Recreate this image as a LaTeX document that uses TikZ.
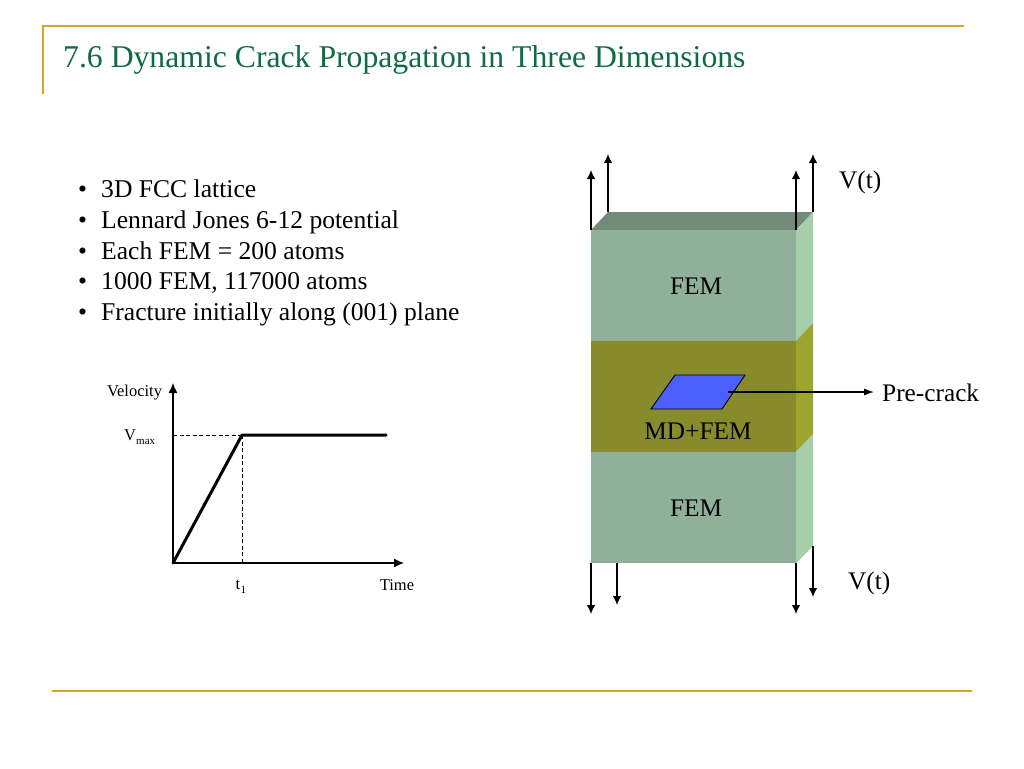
\documentclass[tikz,border=0pt]{standalone}
\usepackage{fontspec}
\setmainfont{Liberation Serif}
\definecolor{gold}{HTML}{D6A42E}
\definecolor{titlegreen}{HTML}{0F6B45}
\definecolor{femfront}{HTML}{90B099}
\definecolor{femside}{HTML}{A6CEAB}
\definecolor{femtop}{HTML}{728A78}
\definecolor{mdfront}{HTML}{878B2B}
\definecolor{mdside}{HTML}{9CA62F}
\definecolor{crackblue}{HTML}{4D5FFF}
\usetikzlibrary{arrows.meta}

\begin{document}
\begin{tikzpicture}[x=1pt, y=-1pt,
  rule/.style={gold, line width=2.4pt},
  bullet/.style={anchor=base west, inner sep=0pt, font=\fontsize{25.6}{26}\selectfont},
  label24/.style={inner sep=0pt, font=\fontsize{25.3}{26}\selectfont},
  label15/.style={inner sep=0pt, font=\fontsize{16.5}{17}\selectfont},
  velo/.style={-{Latex[length=9pt, width=8.5pt]}, line width=1.3pt},
  axis/.style={-{Latex[length=10pt, width=9pt]}, line width=1.3pt},
  curve/.style={line width=3pt, line cap=round, line join=round},
  guide/.style={line width=.8pt, dash pattern=on 4pt off 2.5pt}]
\useasboundingbox (0,0) rectangle (1024,768);

% frame of the slide
\coordinate (F1) at (43,94);
\coordinate (F2) at (43,26);
\coordinate (F3) at (964,26);
\draw [rule, line join=miter] (F1) -- (F2) -- (F3);
\coordinate (R1) at (52,691);
\coordinate (R2) at (972,691);
\draw [rule] (R1) -- (R2);
\node [anchor=base west, inner sep=0pt, text=titlegreen, font=\fontsize{31.7}{32}\selectfont] (title) at (63,67) {7.6 Dynamic Crack Propagation in Three Dimensions};

% list
\foreach \n/\y/\t in {a/197/3D FCC lattice, b/228/Lennard Jones 6-12 potential, c/259/Each FEM = 200 atoms, d/289/{1000 FEM, 117000 atoms}, e/320/Fracture initially along (001) plane} {
  \node [bullet] (dot\n) at (78,\y) {•};
  \node [bullet] (item\n) at (101,\y) {\t};
}

% velocity plot
\coordinate (O) at (173,563);
\coordinate (Vtop) at (173,383);
\coordinate (Tend) at (404,563);
\coordinate (Vm) at (173,435);
\coordinate (K) at (242,435);
\coordinate (T1) at (242,563);
\coordinate (Cend) at (386,435);
\draw [axis] (O) -- (Vtop);
\draw [axis] (O) -- (Tend);
\draw [guide] (Vm) -- (K);
\draw [guide] (K) -- (T1);
\draw [curve] (O) -- (K) -- (Cend);
\node [label15] (velocity) at (134.5,393) {Velocity};
\node [label15, anchor=base] (vmax) at (130,440) {V};
\node [inner sep=0pt, font=\fontsize{11}{11}\selectfont, anchor=base west] (vmaxsub) at (136,444) {max};
\node [label15, anchor=base] (tone) at (238,589) {t};
\node [inner sep=0pt, font=\fontsize{11}{11}\selectfont, anchor=base west] (tonesub) at (240.5,593) {1};
\node [label15] (time) at (397,585) {Time};

% block, front corners
\coordinate (A) at (591,230);
\coordinate (B) at (796,230);
\coordinate (C) at (796,341);
\coordinate (D) at (591,341);
\coordinate (E) at (796,452);
\coordinate (G) at (591,452);
\coordinate (H) at (796,563);
\coordinate (I) at (591,563);
% block, back corners
\coordinate (A2) at (608,212);
\coordinate (B2) at (813,212);
\coordinate (C2) at (813,323);
\coordinate (E2) at (813,434);
\coordinate (H2) at (813,546);
\fill [femtop] (A) -- (A2) -- (B2) -- (B) -- cycle;
\fill [femfront] (A) -- (B) -- (C) -- (D) -- cycle;
\fill [femside] (B) -- (B2) -- (C2) -- (C) -- cycle;
\fill [mdfront] (D) -- (C) -- (E) -- (G) -- cycle;
\fill [mdside] (C) -- (C2) -- (E2) -- (E) -- cycle;
\fill [femfront] (G) -- (E) -- (H) -- (I) -- cycle;
\fill [femside] (E) -- (E2) -- (H2) -- (H) -- cycle;

\node [label24] (femtoplabel) at (696,286) {FEM};
\node [label24] (mdlabel) at (698,431) {MD+FEM};
\node [label24] (fembotlabel) at (696,508) {FEM};

% pre-crack
\coordinate (P1) at (651,409);
\coordinate (P2) at (722,409);
\coordinate (P3) at (745,375);
\coordinate (P4) at (675,375);
\draw [fill=crackblue, line width=.9pt] (P1) -- (P2) -- (P3) -- (P4) -- cycle;
\node [label24, anchor=base west] (precrack) at (882,401) {Pre-crack};
\coordinate (Pin) at (728,392);
\coordinate (Pout) at (874,392);
\draw [-{Latex[length=10pt, width=7pt]}, line width=1.1pt] (Pin) -- (Pout);

% arrows on top
\coordinate (U1) at (591,170);
\coordinate (U2) at (608,154);
\coordinate (U3) at (796,170);
\coordinate (U4) at (813,154);
\draw [velo] (A) -- (U1);
\draw [velo] (A2) -- (U2);
\draw [velo] (B) -- (U3);
\draw [velo] (B2) -- (U4);
\node [label24, anchor=base west] (vtop) at (839,188) {V(t)};

% arrows below
\coordinate (Q) at (617,563);
\coordinate (L1) at (591,614);
\coordinate (L2) at (617,605);
\coordinate (L3) at (796,614);
\coordinate (L4) at (813,597);
\draw [velo] (I) -- (L1);
\draw [velo] (Q) -- (L2);
\draw [velo] (H) -- (L3);
\draw [velo] (H2) -- (L4);
\node [label24, anchor=base west] (vbot) at (848,589) {V(t)};
\end{tikzpicture}
\end{document}
